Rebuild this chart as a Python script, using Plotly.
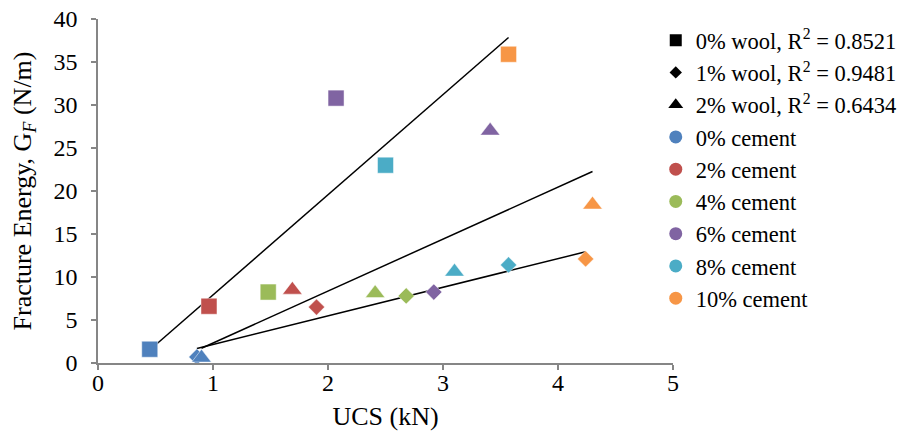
import numpy as np
import plotly.graph_objects as go

# ---- data ----
cement_labels = ["0% cement", "2% cement", "4% cement", "6% cement", "8% cement", "10% cement"]
cement_colors = ["#4F81BD", "#C0504D", "#9BBB59", "#8064A2", "#4BACC6", "#F79646"]

wool_labels = ["0% wool", "1% wool", "2% wool"]
r2_labels = ["0.8521", "0.9481", "0.6434"]
wool_symbols = ["square", "diamond", "triangle-up"]

ucs_wool0 = [0.45, 0.965, 1.48, 2.07, 2.50, 3.57]
gf_wool0 = [1.6, 6.6, 8.25, 30.8, 23.0, 35.9]

ucs_wool1 = [0.86, 1.90, 2.68, 2.92, 3.57, 4.24]
gf_wool1 = [0.7, 6.5, 7.8, 8.25, 11.4, 12.1]

ucs_wool2 = [0.90, 1.69, 2.41, 3.41, 3.10, 4.30]
gf_wool2 = [0.6, 8.5, 8.1, 27.0, 10.6, 18.4]

x_ticks = [0, 1, 2, 3, 4, 5]
y_ticks = [0, 5, 10, 15, 20, 25, 30, 35, 40]

series_x = [ucs_wool0, ucs_wool1, ucs_wool2]
series_y = [gf_wool0, gf_wool1, gf_wool2]
marker_sizes = [16, 12.5, 17]
legend_sizes = [12, 9.5, 13]

FONT = "Liberation Serif"
fig = go.Figure()

# trend lines (linear fits spanning each series' x-range)
for xs, ys in zip(series_x, series_y):
    xs_a = np.array(xs); ys_a = np.array(ys)
    m, b = np.polyfit(xs_a, ys_a, 1)
    xl = np.array([xs_a.min(), xs_a.max()])
    fig.add_trace(go.Scatter(x=xl, y=m * xl + b, mode="lines",
                             line=dict(color="black", width=1.5),
                             showlegend=False, hoverinfo="skip"))

# data points
for xs, ys, sym, sz in zip(series_x, series_y, wool_symbols, marker_sizes):
    fig.add_trace(go.Scatter(x=xs, y=ys, mode="markers", showlegend=False,
                             marker=dict(symbol=sym, size=sz, color=cement_colors,
                                         line=dict(color="rgba(255,255,255,0.6)", width=0.8))))

# legend entries
for lab, r2, sym, ls in zip(wool_labels, r2_labels, wool_symbols, legend_sizes):
    fig.add_trace(go.Scatter(x=[None], y=[None], mode="markers",
                             name=f"{lab}, R<sup>2</sup> = {r2}",
                             marker=dict(symbol=sym, size=ls, color="black")))
for lab, col in zip(cement_labels, cement_colors):
    fig.add_trace(go.Scatter(x=[None], y=[None], mode="markers", name=lab,
                             marker=dict(symbol="circle", size=13, color=col)))

axis_common = dict(showgrid=False, zeroline=False, showline=True, linecolor="#868686",
                   linewidth=1.5, ticks="outside", ticklen=5, tickcolor="#868686",
                   tickwidth=1.5, automargin=False, ticklabeloverflow="allow",
                   tickfont=dict(family=FONT, size=24, color="black"))

fig.update_layout(
    width=910, height=431,
    margin=dict(l=90, r=245, t=11, b=76),
    plot_bgcolor="white", paper_bgcolor="white",
    font=dict(family=FONT, size=24, color="black"),
    xaxis=dict(range=[0, 5], tickvals=x_ticks, ticklabelstandoff=-8,
               title=dict(text="UCS (kN)", standoff=12, font=dict(family=FONT, size=26)),
               **axis_common),
    yaxis=dict(range=[0, 40], tickvals=y_ticks, ticklabelstandoff=9,
               title=dict(text="Fracture Energy, G<sub><i>F</i></sub> (N/m)", standoff=22,
                          font=dict(family=FONT, size=26)), **axis_common),
    legend=dict(x=0.970, xanchor="left", y=1.0, yanchor="top", xref="paper",
                font=dict(family=FONT, size=22.5), tracegroupgap=0,
                itemwidth=30, bgcolor="rgba(0,0,0,0)"),
    showlegend=True,
)

fig.write_html("out.html")
